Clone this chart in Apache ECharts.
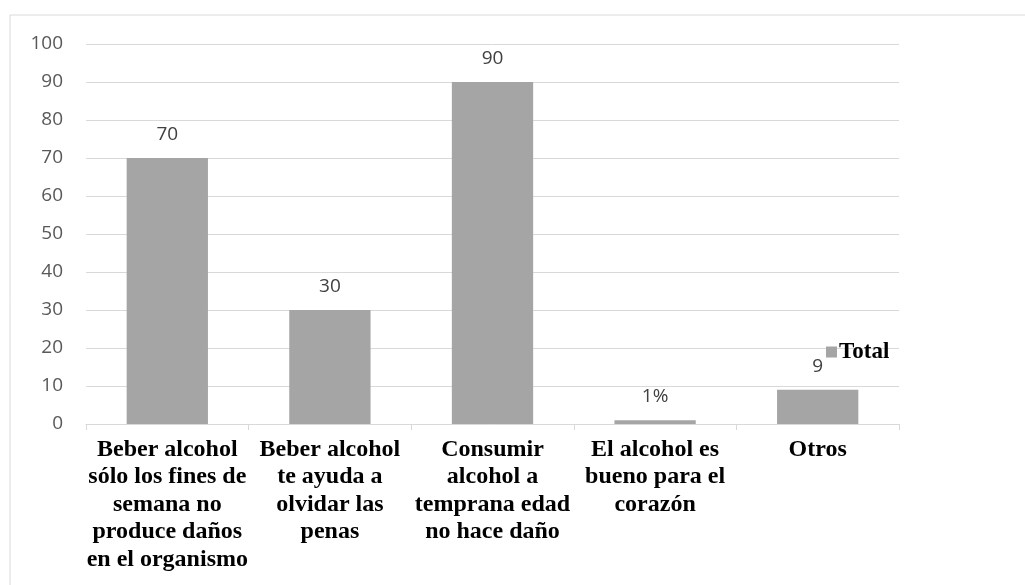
<!DOCTYPE html>
<html>
<head>
<meta charset="utf-8">
<script src="https://cdn.jsdelivr.net/npm/echarts@6/dist/echarts.min.js"></script>
<style>
  html, body { margin: 0; padding: 0; background: #fff; }
  #chart { width: 1025px; height: 585px; }
</style>
</head>
<body>
<div id="chart"></div>
<script>
// categorías del eje x
var categories = [
  "Beber alcohol\nsólo los fines de\nsemana no\nproduce daños\nen el organismo",
  "Beber alcohol\nte ayuda a\nolvidar las\npenas",
  "Consumir\nalcohol a\ntemprana edad\nno hace daño",
  "El alcohol es\nbueno para el\ncorazón",
  "Otros"
];
// valores de la serie Total
var totals = [70, 30, 90, 1, 9];
// etiquetas que se muestran encima de cada barra
var valueLabels = ["70", "30", "90", "1%", "9"];

var chart = echarts.init(document.getElementById("chart"));
chart.setOption({
  animation: false,
  color: ["#a5a5a5"],
  grid: { left: 86, right: 126, top: 44, bottom: 161 },
  legend: {
    data: ["Total"],
    left: 821,
    top: 335,
    itemWidth: 11,
    itemHeight: 11,
    itemGap: 4,
    icon: "rect",
    textStyle: { fontFamily: "Liberation Serif", fontWeight: "bold", fontSize: 23, lineHeight: 24, color: "#000", padding: [0, 0, 0, -3] }
  },
  graphic: [{
    type: "rect",
    shape: { x: 10, y: 15, width: 1100, height: 700 },
    style: { fill: "none", stroke: "#d9d9d9", lineWidth: 1 },
    silent: true
  }],
  xAxis: {
    type: "category",
    data: categories,
    axisLine: { lineStyle: { color: "#d9d9d9" } },
    axisTick: { show: true, length: 6, lineStyle: { color: "#d9d9d9" } },
    axisLabel: {
      interval: 0,
      margin: 12,
      color: "#000",
      fontFamily: "Liberation Serif",
      fontWeight: "bold",
      fontSize: 24,
      lineHeight: 27.5
    }
  },
  yAxis: {
    type: "value",
    min: 0,
    max: 100,
    interval: 10,
    axisLine: { show: false },
    axisTick: { show: false },
    splitLine: { lineStyle: { color: "#d9d9d9" } },
    axisLabel: { margin: 23, color: "#595959", fontFamily: "Open Sans", fontSize: 19 }
  },
  series: [{
    name: "Total",
    type: "bar",
    data: totals,
    barWidth: "50%",
    label: {
      show: true,
      position: "top",
      distance: 14,
      color: "#404040",
      fontFamily: "Open Sans",
      fontSize: 19,
      formatter: function (p) { return valueLabels[p.dataIndex]; }
    }
  }]
});
</script>
</body>
</html>
